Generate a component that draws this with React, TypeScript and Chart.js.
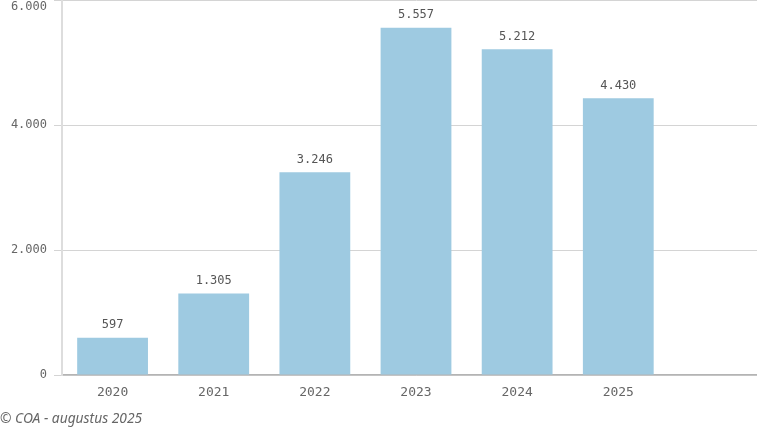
import React, { useEffect, useRef } from "react";
import { Chart, registerables } from "chart.js";

Chart.register(...registerables);

const categories: string[] = ["2020", "2021", "2022", "2023", "2024", "2025", ""];
const values: (number | null)[] = [597, 1305, 3246, 5557, 5212, 4430, null];
const yTicks: number[] = [0, 2000, 4000, 6000];
const footerText = "© COA - augustus 2025";

const MONO = "'DejaVu Sans Mono', monospace";

function fmt(n: number): string {
  const s = Math.round(n).toString();
  return s.replace(/\B(?=(\d{3})+(?!\d))/g, ".");
}

const valueLabels = {
  id: "valueLabels",
  afterDatasetsDraw(chart: any) {
    const ctx = chart.ctx;
    const meta = chart.getDatasetMeta(0);
    ctx.save();
    ctx.font = `12px ${MONO}`;
    ctx.fillStyle = "#555555";
    ctx.textAlign = "center";
    ctx.textBaseline = "alphabetic";
    meta.data.forEach((el: any, i: number) => {
      const v = values[i];
      if (v == null) return;
      ctx.fillText(fmt(v), el.x, el.y - 9.5);
    });
    ctx.restore();
  },
};

export default function App() {
  const ref = useRef<HTMLCanvasElement | null>(null);

  useEffect(() => {
    if (!ref.current) return;
    const chart = new Chart(ref.current, {
      type: "bar",
      data: {
        labels: categories,
        datasets: [
          {
            data: values,
            backgroundColor: "#9ecae1",
            borderWidth: 0,
            barPercentage: 0.7,
            categoryPercentage: 1.0,
          },
        ],
      },
      options: {
        animation: false,
        responsive: false,
        maintainAspectRatio: false,
        layout: { padding: 0 },
        plugins: {
          legend: { display: false },
          tooltip: { enabled: false },
          title: { display: false },
        },
        scales: {
          x: {
            offset: true,
            grid: { display: false, drawTicks: false },
            border: { display: true, color: "#b4b4b4", width: 1.5 },
            ticks: {
              color: "#666666",
              font: { family: MONO, size: 13 },
              padding: 10,
              maxRotation: 0,
              autoSkip: false,
            },
            afterFit(scale: any) {
              scale.height = 53;
              scale.paddingLeft = 0;
              scale.paddingRight = 0;
            },
          },
          y: {
            min: 0,
            max: 6000,
            afterBuildTicks(scale: any) {
              scale.ticks = yTicks.map((v) => ({ value: v }));
            },
            grid: {
              color: "#d4d4d4",
              lineWidth: 1,
              drawTicks: true,
              tickLength: 8,
            },
            border: { display: true, color: "#dddddd", width: 2 },
            ticks: {
              color: "#666666",
              font: { family: MONO, size: 12 },
              padding: 7,
              callback: (v: any) => {
                const n = Number(v);
                if (n === yTicks[yTicks.length - 1]) return ["", fmt(n)];
                return fmt(n);
              },
            },
            afterFit(scale: any) {
              scale.width = 62;
              scale.paddingTop = 0;
              scale.paddingBottom = 0;
            },
          },
        },
      },
      plugins: [valueLabels],
    });
    return () => chart.destroy();
  }, []);

  return (
    <div
      style={{
        position: "absolute",
        left: 0,
        top: 0,
        width: 757,
        height: 428,
        overflow: "hidden",
        background: "#ffffff",
      }}
    >
      <canvas
        ref={ref}
        width={770}
        height={428}
        style={{ position: "absolute", left: 0, top: 0, width: 770, height: 428 }}
      />
      <div
        style={{
          position: "absolute",
          left: 0,
          top: 410,
          fontFamily: "'Noto Sans', sans-serif",
          fontStyle: "italic",
          fontSize: 13.8,
          lineHeight: "16px",
          color: "#666666",
          whiteSpace: "nowrap",
        }}
      >
        {footerText}
      </div>
    </div>
  );
}
